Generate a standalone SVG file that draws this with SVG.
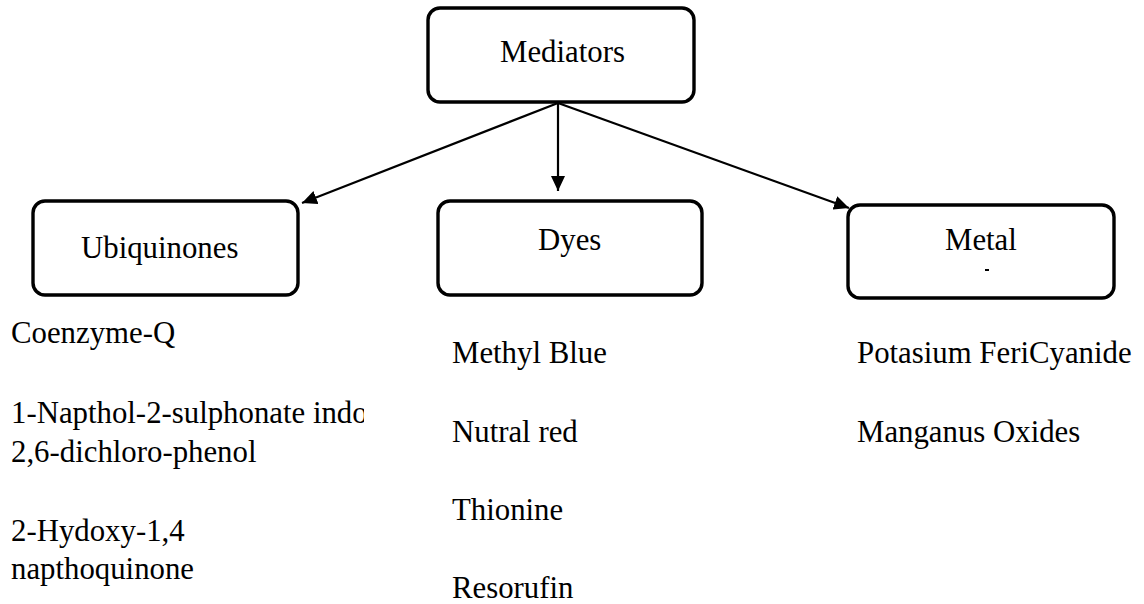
<svg xmlns="http://www.w3.org/2000/svg" width="1144" height="604" viewBox="0 0 1144 604">
<style>
.box{fill:#fff;stroke:#000;stroke-width:3.4}
.t{font-family:"Liberation Serif","Times New Roman",serif;font-size:30.8px;fill:#000}
.c{stroke:#000;stroke-width:2.2;fill:none}
</style>
<defs>
<marker id="ah" markerUnits="userSpaceOnUse" markerWidth="16" markerHeight="14" refX="15" refY="7" orient="auto">
<path d="M0,0 L15,7 L0,14 Z" fill="#000"/>
</marker>
<clipPath id="clipL"><rect x="0" y="380" width="364" height="60"/></clipPath>
</defs>
<rect width="1144" height="604" fill="#fff"/>
<g id="connectors">
<line class="c" x1="558" y1="103" x2="302" y2="203" marker-end="url(#ah)"/>
<line class="c" x1="558" y1="103" x2="558" y2="191" marker-end="url(#ah)"/>
<line class="c" x1="558" y1="103" x2="849" y2="208" marker-end="url(#ah)"/>
</g>
<g id="mediators">
<rect class="box" x="428" y="8" width="266" height="94" rx="12"/>
<text class="t" x="500" y="62">Mediators</text>
</g>
<g id="ubiquinones">
<rect class="box" x="33" y="201" width="265" height="94" rx="12"/>
<text class="t" x="81" y="258">Ubiquinones</text>
</g>
<g id="dyes">
<rect class="box" x="438" y="201" width="264" height="94" rx="12"/>
<text class="t" x="538" y="250">Dyes</text>
</g>
<g id="metal">
<rect class="box" x="848" y="205" width="266" height="93" rx="12"/>
<text class="t" x="945" y="250">Metal</text>
<path d="M985,269 L989,269 L989,271 L985,271 Z" fill="#000"/>
</g>
<g id="ubiquinones-list">
<text class="t" x="11" y="343">Coenzyme-Q</text>
<text class="t" x="11" y="423" clip-path="url(#clipL)">1-Napthol-2-sulphonate indo</text>
<text class="t" x="11" y="462">2,6-dichloro-phenol</text>
<text class="t" x="11" y="541">2-Hydoxy-1,4</text>
<text class="t" x="11" y="579">napthoquinone</text>
</g>
<g id="dyes-list">
<text class="t" x="452" y="363">Methyl Blue</text>
<text class="t" x="452" y="442">Nutral red</text>
<text class="t" x="452" y="520">Thionine</text>
<text class="t" x="452" y="598">Resorufin</text>
</g>
<g id="metal-list">
<text class="t" x="857" y="363">Potasium FeriCyanide</text>
<text class="t" x="857" y="442">Manganus Oxides</text>
</g>
</svg>
